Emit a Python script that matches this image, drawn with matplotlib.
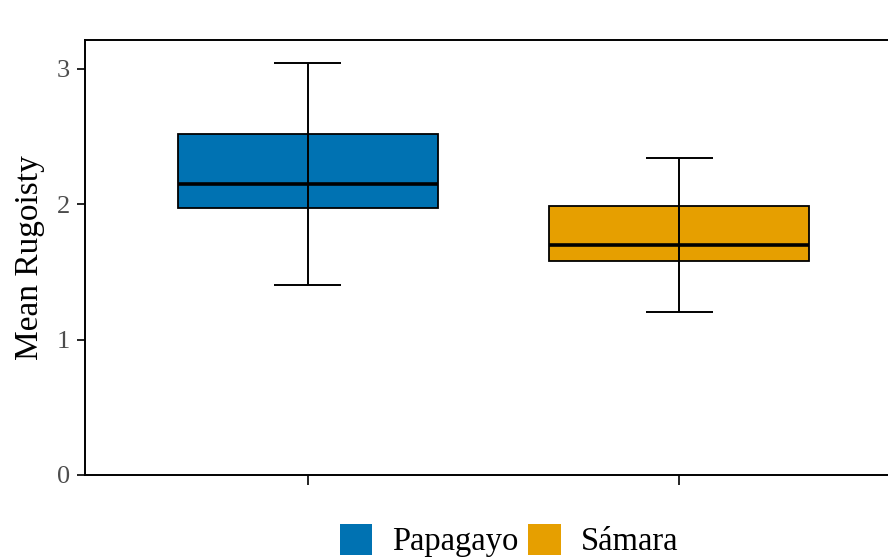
import matplotlib.pyplot as plt
from matplotlib.patches import Patch

plt.rcParams['font.family'] = ['Liberation Serif', 'DejaVu Serif']

sites = ['Papagayo', 'Sámara']
colors = ['#0072B2', '#E69F00']
whislo = [1.40, 1.20]
q1 = [1.97, 1.58]
med = [2.15, 1.70]
q3 = [2.52, 1.99]
whishi = [3.04, 2.34]

fig = plt.figure(figsize=(8.88, 5.6), dpi=100)
ax = fig.add_axes([0.0957, 0.152, 0.920, 0.7768])

pos = [1, 2]
stats = []
for i in range(len(sites)):
    stats.append({'whislo': whislo[i], 'q1': q1[i], 'med': med[i],
                  'q3': q3[i], 'whishi': whishi[i], 'label': sites[i]})

bp = ax.bxp(stats, positions=pos, widths=0.70, patch_artist=True,
            showfliers=False, showcaps=False,
            boxprops=dict(linewidth=1.3, edgecolor='black'),
            medianprops=dict(color='black', linewidth=2.6),
            whiskerprops=dict(linewidth=0))
for patch, c in zip(bp['boxes'], colors):
    patch.set_facecolor(c)
    patch.set_zorder(2)
for m in bp['medians']:
    m.set_zorder(3)

# error bars drawn on top of the boxes, ggplot style
ax.vlines(pos, whislo, whishi, color='black', linewidth=1.4, zorder=4)
ax.hlines(whislo, [p - 0.09 for p in pos], [p + 0.09 for p in pos],
          color='black', linewidth=1.4, zorder=4)
ax.hlines(whishi, [p - 0.09 for p in pos], [p + 0.09 for p in pos],
          color='black', linewidth=1.4, zorder=4)

ax.set_xlim(0.4, 2.6)
ax.set_ylim(0, 3.214)
ax.set_yticks([0, 1, 2, 3])
ax.set_yticklabels(['0', '1', '2', '3'])
ax.set_xticks(pos)
ax.set_xticklabels(['', ''])
ax.tick_params(axis='y', length=6, width=1.2, labelsize=19, labelcolor='#4d4d4d', pad=5)
ax.tick_params(axis='x', length=7, width=1.2)
ax.set_ylabel('Mean Rugoisty', fontsize=24, labelpad=8)

for s in ['left', 'bottom', 'top', 'right']:
    ax.spines[s].set_linewidth(1.4)
    ax.spines[s].set_color('black')

handles = [Patch(facecolor=c, edgecolor='none') for c in colors]
fig.legend(handles, sites, loc='center', bbox_to_anchor=(0.573, 0.035), ncol=2,
           frameon=False, fontsize=23.5, handlelength=1.0, handleheight=1.1,
           handletextpad=0.6, columnspacing=0.3)

fig.savefig('out.png', dpi=100)
